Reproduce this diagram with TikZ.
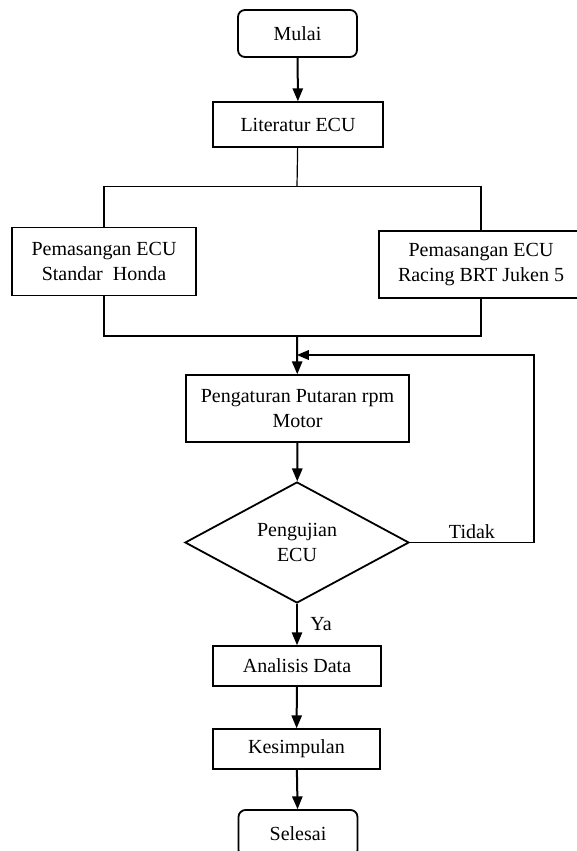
\documentclass[tikz,border=0pt]{standalone}
\usepackage{fontspec}
\setmainfont{Liberation Serif}
\usetikzlibrary{arrows,shapes.geometric}

\begin{document}
\begin{tikzpicture}[x=1pt,y=-1pt,
   every node/.style={font=\fontsize{20}{24.5}\selectfont},
   box/.style={draw,line width=1.8pt,inner sep=0pt,align=center},
   term/.style={box,rounded corners=7pt,minimum width=119pt,minimum height=47pt},
   decide/.style={box,diamond,aspect=1.85,minimum width=224pt,minimum height=121pt},
   flow/.style={line width=2pt,-triangle 45},
   link/.style={line width=1.2pt}]
   \useasboundingbox (0,0) rectangle (576,851);
 %
   \node[term] (mulai)    at (297.5, 33.5) {Mulai};
   \node[box,minimum width=170pt,minimum height=45pt] (lit)   at (298,124.5) {Literatur ECU};
   \node[box,minimum width=184pt,minimum height=68pt] (ecuA)  at (104,261.5) {Pemasangan ECU\\Standar~~Honda};
   \node[box,minimum width=204pt,minimum height=67pt] (ecuB)  at (481,264.5) {Pemasangan ECU\\Racing BRT Juken 5};
   \node[box,minimum width=223pt,minimum height=67pt] (atur)  at (297.5,408.5) {Pengaturan Putaran rpm\\Motor};
   \node[decide] (uji)    at (297,542.5) {Pengujian\\ECU};
   \node[box,minimum width=168pt,minimum height=40pt] (analisis) at (297,666) {Analisis Data};
   \node[box,minimum width=167pt,minimum height=40pt] (simpul)   at (296.5,749) {Kesimpulan};
   \node[term] (selesai)  at (298,833.5) {Selesai};
 %
   \coordinate (split) at (297,186.5);
   \coordinate (join)  at (297,336);
   \coordinate (back)  at (534,355);
 %
   \draw[flow] (mulai) -- (lit);
   \draw[link] (lit) -- (split);
   \draw[link] (ecuA.north) |- (split) -| (ecuB.north);
   \draw[link] (ecuA.south) |- (join) -| (ecuB.south);
   \draw[flow] (join) -- (atur);
   \draw[flow] (atur) -- (uji);
   \draw[flow] (uji) -- node[anchor=west,xshift=9pt]{Ya} (analisis);
   \draw[flow] (analisis) -- (simpul);
   \draw[flow] (simpul) -- (selesai);
   \draw[line width=1.8pt,-triangle 45] (uji.east) -| node[above,pos=0.25]{Tidak} (back) -- (back -| join);
\end{tikzpicture}
\end{document}
